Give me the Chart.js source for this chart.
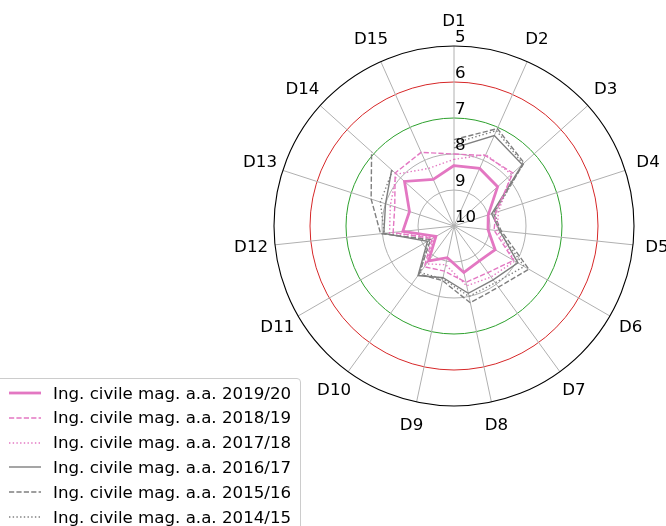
<!DOCTYPE html>
<html>
<head>
<meta charset="utf-8">
<script src="https://cdn.jsdelivr.net/npm/chart.js@4.4.1/dist/chart.umd.min.js"></script>
<style>
  html, body { margin: 0; padding: 0; background: #fff; overflow: hidden; }
  #wrap { position: relative; width: 666px; height: 526px; overflow: hidden; }
  #legend {
    position: absolute; left: -12px; top: 378px; width: 311px; height: 170px;
    border: 1px solid #cccccc; border-radius: 4px; background: rgba(255,255,255,0.8);
    font-family: "DejaVu Sans", sans-serif; font-size: 16.67px; color: #000;
  }
  .row { position: absolute; left: 0; height: 20px; display: flex; align-items: center; white-space: nowrap; }
  .row svg { margin-left: 20px; margin-right: 12px; }
</style>
</head>
<body>
<div id="wrap">
  <canvas id="radar" width="666" height="526"></canvas>
  <div id="legend"></div>
</div>
<script>
const categories = ["D1", "D2", "D3", "D4", "D5", "D6", "D7", "D8", "D9", "D10", "D11", "D12", "D13", "D14", "D15"];

const seriesNames = [
    "Ing. civile mag. a.a. 2019/20",
    "Ing. civile mag. a.a. 2018/19",
    "Ing. civile mag. a.a. 2017/18",
    "Ing. civile mag. a.a. 2016/17",
    "Ing. civile mag. a.a. 2015/16",
    "Ing. civile mag. a.a. 2014/15"
];

// average scores per question (D15 missing for the older years)
const aa2019 = [8.32, 8.25, 8.37, 9.0, 9.05, 8.68, 8.8, 8.68, 9.1, 8.8, 9.42, 8.57, 8.7, 8.15, 8.58];
const aa2018 = [8.0, 7.86, 7.8, 8.78, 8.88, 8.09, 8.4, 8.4, 8.72, 8.6, 9.3, 8.3, 8.27, 7.8, 7.76];
const aa2017 = [8.15, 7.83, 7.85, 8.7, 8.8, 8.05, 8.25, 8.3, 8.9, 8.7, 9.35, 8.2, 8.14, 7.85, 8.25];
const aa2016 = [7.83, 7.25, 7.45, 8.9, 8.72, 7.95, 8.15, 8.09, 8.53, 8.3, 9.15, 8.04, 8.0, 7.67, null];
const aa2015 = [7.6, 7.04, 7.38, 8.85, 8.68, 7.6, 7.9, 7.82, 8.45, 8.35, 9.25, 7.95, 7.58, 6.92, null];
const aa2014 = [7.7, 7.1, 7.42, 8.8, 8.75, 7.75, 8.05, 8.0, 8.5, 8.4, 9.2, 8.05, 7.85, 7.7, null];

const tickValues = [5, 6, 7, 8, 9, 10];
const tickLabels = ["5", "6", "7", "8", "9", "10"];

const PINK = "#e377c2";
const GRAY = "#7f7f7f";
const seriesData = [aa2019, aa2018, aa2017, aa2016, aa2015, aa2014];
const seriesColors = [PINK, PINK, PINK, GRAY, GRAY, GRAY];
const seriesWidths = [2.8, 1.4, 1.4, 1.4, 1.4, 1.4];
const seriesDash = [[], [5.2, 2.2], [1.4, 2.3], [], [5.2, 2.2], [1.4, 2.3]];

const FONT = '"DejaVu Sans", sans-serif';
const FONT_SIZE = 16.67;
Chart.defaults.font.family = FONT;

function ringColor(value) {
    if (value === 6) return "#d62728";
    if (value === 7) return "#2ca02c";
    if (value === 5) return "rgba(0,0,0,0)";
    return "#b0b0b0";
}

const polarDecor = {
    id: "polarDecor",
    afterDraw(chart) {
        const r = chart.scales.r;
        const ctx = chart.ctx;
        const outer = r.getDistanceFromCenterForValue(5);
        ctx.save();
        ctx.beginPath();
        ctx.arc(r.xCenter, r.yCenter, outer, 0, Math.PI * 2);
        ctx.strokeStyle = "#000";
        ctx.lineWidth = 1.1;
        ctx.stroke();

        ctx.fillStyle = "#000";
        ctx.font = FONT_SIZE + "px " + FONT;
        ctx.textAlign = "center";
        ctx.textBaseline = "middle";
        categories.forEach((c, i) => {
            const p = r.getPointPosition(i, outer + 24);
            ctx.fillText(c, p.x, p.y);
        });

        ctx.textAlign = "left";
        ctx.textBaseline = "alphabetic";
        tickValues.forEach((v, i) => {
            const d = r.getDistanceFromCenterForValue(v);
            ctx.fillText(tickLabels[i], r.xCenter + 1, r.yCenter - d - 4);
        });
        ctx.restore();
    }
};

const ctx = document.getElementById("radar").getContext("2d");
const radarChart = new Chart(ctx, {
    type: "radar",
    data: {
        labels: categories,
        datasets: seriesNames.map((name, i) => ({
            label: name,
            data: seriesData[i],
            borderColor: seriesColors[i],
            borderWidth: seriesWidths[i],
            borderDash: seriesDash[i],
            fill: false,
            pointRadius: 0,
            pointHoverRadius: 0,
            tension: 0,
            spanGaps: false
        }))
    },
    options: {
        responsive: false,
        animation: false,
        layout: { padding: { left: 274, right: 32, top: 46, bottom: 120 } },
        plugins: {
            legend: { display: false },
            tooltip: { enabled: false }
        },
        scales: {
            r: {
                min: 5,
                max: 10,
                reverse: true,
                beginAtZero: false,
                ticks: { display: false, stepSize: 1 },
                pointLabels: { display: false },
                angleLines: { display: true, color: "#b0b0b0", lineWidth: 1 },
                grid: {
                    circular: true,
                    color: (c) => ringColor(c.tick ? c.tick.value : null),
                    lineWidth: 1
                }
            }
        }
    },
    plugins: [polarDecor]
});

// legend drawn as html so it can hang off the edge like the original
const legend = document.getElementById("legend");
seriesNames.forEach((name, i) => {
    const row = document.createElement("div");
    row.className = "row";
    row.style.top = (4 + i * 24.8) + "px";
    const dash = seriesDash[i].length ? `stroke-dasharray="${seriesDash[i].join(" ")}"` : "";
    row.innerHTML = `
        <svg width="32" height="8"><line x1="0" y1="4" x2="32" y2="4"
            stroke="${seriesColors[i]}" stroke-width="${seriesWidths[i]}" ${dash}/></svg>
        <span>${name}</span>`;
    legend.appendChild(row);
});
</script>
</body>
</html>
